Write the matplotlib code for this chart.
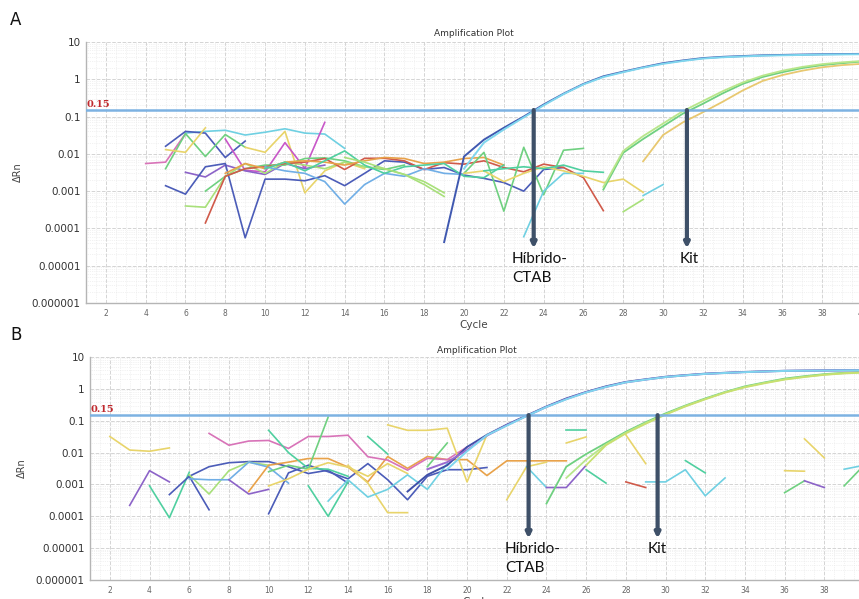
import matplotlib
matplotlib.use('Agg')
import matplotlib.pyplot as plt
from matplotlib.ticker import MultipleLocator, FixedLocator, LogLocator, NullFormatter
import numpy as np

# ---------------- DATA ----------------
Y_TICKS = [1e-6, 1e-5, 1e-4, 1e-3, 1e-2, 1e-1, 1, 10]
Y_TICK_LABELS = ['0.000001', '0.00001', '0.0001', '0.001', '0.01', '0.1', '1', '10']
X_TICKS = list(range(2, 41, 2))
THRESHOLD = 0.15

# Panel A amplification curves (start cycle, values per cycle)
A_HIB_STARTS = [19, 20]
A_HIB_VALUES = [
    [4.3e-5, 0.0085, 0.024, 0.05, 0.1, 0.21, 0.41, 0.75, 1.2, 1.6, 2.1, 2.7, 3.2, 3.7, 4.0, 4.2, 4.4, 4.5, 4.6, 4.7, 4.75, 4.8],
    [0.004, 0.02, 0.045, 0.095, 0.2, 0.4, 0.73, 1.15, 1.55, 2.05, 2.6, 3.1, 3.6, 3.9, 4.1, 4.3, 4.4, 4.5, 4.6, 4.65, 4.7],
]
A_KIT_STARTS = [27, 27, 29]
A_KIT_VALUES = [
    [0.0011, 0.0107, 0.025, 0.055, 0.12, 0.22, 0.42, 0.75, 1.15, 1.55, 2.0, 2.4, 2.7, 3.0],
    [0.0013, 0.012, 0.03, 0.065, 0.14, 0.26, 0.48, 0.82, 1.25, 1.7, 2.15, 2.55, 2.85, 3.1],
    [0.0063, 0.032, 0.07, 0.13, 0.25, 0.5, 0.9, 1.3, 1.7, 2.1, 2.4, 2.6],
]
A_CT_HIBRIDO = 23.5
A_CT_KIT = 31.2

# Panel A background (noise) traces
A_NOISE_STARTS = [4, 6, 5, 5, 5, 9, 8, 6, 5, 7, 6, 7, 8, 10, 10, 20, 23, 20, 28, 29, 14, 21]
A_NOISE_VALUES = [
    [0.0055, 0.006, 0.035],
    [0.036, 0.04, 0.043, 0.032, 0.038, 0.047, 0.036, 0.034, 0.014],
    [0.016, 0.04, 0.036, 0.008, 0.022],
    [0.004, 0.035, 0.0085, 0.033, 0.015],
    [0.013, 0.011, 0.05],
    [0.015, 0.011, 0.04, 0.0009, 0.0035, 0.006, 0.004],
    [0.025, 0.0036, 0.0033, 0.02, 0.0041, 0.07],
    [0.0032, 0.0024, 0.005, 0.0035, 0.0028, 0.0055, 0.004, 0.005],
    [0.0014, 0.00083, 0.0045, 0.0055, 5.6e-5, 0.0021, 0.0021, 0.0019, 0.0026, 0.0014, 0.003, 0.0065, 0.006, 0.0038, 0.0043, 0.0027, 0.0022, 0.0017, 0.001, 0.0038, 0.0043],
    [0.001, 0.0025, 0.004, 0.005, 0.005, 0.0075, 0.0078, 0.0065, 0.0045, 0.0038, 0.005],
    [0.0004, 0.00037, 0.0025, 0.0055, 0.003, 0.006, 0.005, 0.004, 0.006, 0.0045, 0.004, 0.0028, 0.0015, 0.00072],
    [0.00014, 0.0025, 0.004, 0.0045, 0.0055, 0.006, 0.0075, 0.0038, 0.0076, 0.0076, 0.0065, 0.0038, 0.0058, 0.0053, 0.0065, 0.0043, 0.0033, 0.0053, 0.0043, 0.0023, 0.0003],
    [0.003, 0.0055, 0.004, 0.006, 0.0065, 0.006, 0.005, 0.0065, 0.008, 0.0075, 0.0055, 0.006, 0.0075, 0.008, 0.005],
    [0.0045, 0.0035, 0.003, 0.0018, 0.00045, 0.0015, 0.003, 0.0025, 0.004, 0.003, 0.0028],
    [0.004, 0.006, 0.0035, 0.0065, 0.012, 0.005, 0.003, 0.0045, 0.005, 0.0055, 0.0025, 0.0023, 0.005],
    [0.003, 0.011, 0.00029, 0.015, 0.0008, 0.0125, 0.014],
    [6e-5, 0.001, 0.003, 0.003],
    [0.003, 0.0035, 0.0018, 0.003, 0.0045, 0.0035, 0.0025, 0.0017, 0.0021, 0.00093],
    [0.00028, 0.0006],
    [0.00076, 0.0015],
    [0.008, 0.006, 0.004, 0.0028, 0.0018, 0.0009],
    [0.0035, 0.004, 0.0045, 0.004, 0.005, 0.0035, 0.0032],
]

# Panel B amplification curves
B_HIB_STARTS = [17, 18, 19]
B_HIB_VALUES = [
    [0.0006, 0.002, 0.004, 0.015, 0.036, 0.075, 0.145, 0.28, 0.5, 0.8, 1.2, 1.65, 2.0, 2.4, 2.7, 3.0, 3.2, 3.4, 3.55, 3.7, 3.75, 3.8, 3.85, 3.9],
    [0.003, 0.005, 0.012, 0.034, 0.072, 0.14, 0.27, 0.48, 0.78, 1.15, 1.6, 1.95, 2.35, 2.65, 2.95, 3.15, 3.35, 3.5, 3.65, 3.7, 3.75, 3.8, 3.85],
    [0.003, 0.011, 0.035, 0.07, 0.14, 0.27, 0.47, 0.77, 1.15, 1.6, 1.95, 2.35, 2.65, 2.95, 3.15, 3.35, 3.5, 3.65, 3.7, 3.75, 3.8, 3.85],
]
B_KIT_STARTS = [24, 25, 26]
B_KIT_VALUES = [
    [0.00025, 0.0036, 0.009, 0.02, 0.045, 0.09, 0.17, 0.3, 0.5, 0.8, 1.2, 1.6, 2.1, 2.5, 2.9, 3.2, 3.4],
    [0.0016, 0.006, 0.018, 0.042, 0.085, 0.16, 0.29, 0.48, 0.78, 1.15, 1.55, 2.0, 2.4, 2.8, 3.1, 3.3],
    [0.004, 0.017, 0.04, 0.08, 0.155, 0.28, 0.47, 0.76, 1.12, 1.5, 1.95, 2.35, 2.75, 3.05, 3.25],
]
B_CT_HIBRIDO = 23.1
B_CT_KIT = 29.6

B_NOISE_STARTS = [2, 3, 4, 5, 6, 6, 6, 8, 10, 9, 7, 10, 10, 12, 10, 14, 16, 13, 15, 18, 22, 23, 24, 25, 25, 28, 26, 28, 29, 31, 36, 36, 37, 37, 39, 39]
B_NOISE_VALUES = [
    [0.032, 0.012, 0.011, 0.014],
    [0.00022, 0.0027, 0.0012],
    [0.0009, 9e-5, 0.0024],
    [0.00048, 0.0018, 0.0036, 0.0048, 0.0052, 0.0052, 0.0036, 0.0022, 0.0028, 0.0011],
    [0.0018, 0.00016],
    [0.002, 0.0005, 0.0027, 0.005, 0.004],
    [0.0015, 0.0014, 0.0014, 0.005, 0.0035, 0.0011],
    [0.0014, 0.0005, 0.0007],
    [0.00012, 0.0023, 0.004, 0.0025, 0.0015, 0.0045, 0.0014, 0.00033, 0.0018, 0.0029, 0.0029, 0.0034],
    [0.0006, 0.004, 0.005, 0.0065, 0.0065, 0.0035, 0.0012, 0.0075, 0.0032, 0.0075, 0.006, 0.006, 0.0019, 0.0055, 0.0055, 0.0055, 0.0055],
    [0.04, 0.017, 0.023, 0.024, 0.0135, 0.032, 0.032, 0.035, 0.0074, 0.0058, 0.0028, 0.0066, 0.006, 0.015],
    [0.05, 0.01, 0.0032, 0.003, 0.0018],
    [0.0025, 0.004, 0.003, 0.13],
    [0.0009, 0.0001, 0.0012],
    [0.0009, 0.0015, 0.003, 0.0048, 0.0035, 0.0018, 0.0045, 0.0022],
    [0.004, 0.0011, 0.00013, 0.00013],
    [0.074, 0.05, 0.05, 0.058, 0.0012, 0.036],
    [0.0003, 0.0014, 0.0004, 0.0007, 0.002, 0.0007, 0.0045],
    [0.032, 0.009],
    [0.0036, 0.02],
    [0.00033, 0.0036, 0.005],
    [0.0036, 0.0008],
    [0.0008, 0.0008, 0.004],
    [0.05, 0.05],
    [0.02, 0.031],
    [0.036, 0.0045],
    [0.0029, 0.0011],
    [0.0012, 0.0008],
    [0.0012, 0.0012, 0.0029, 0.00044, 0.0016],
    [0.0056, 0.0023],
    [0.0027, 0.0026],
    [0.00055, 0.0013],
    [0.0013, 0.0008],
    [0.027, 0.0068],
    [0.003, 0.004],
    [0.0009, 0.004],
]

# ---------------- STYLE ----------------
DB = '#4b5cb8'; CY = '#6fd0e2'; GR = '#6fd080'; TG = '#4fcf9f'; YE = '#e8d46a'
OR = '#e8a24a'; RD = '#d05a4a'; MG = '#c857c8'; PK = '#d873b8'; LG = '#a8e07a'
SB = '#70aee6'; PU = '#8c63c8'; YG = '#c8e070'

A_NOISE_COLORS = [PK, CY, DB, GR, YE, YE, MG, PU, DB, GR, LG, RD, OR, SB, TG, GR, CY, YE, LG, CY, LG, TG]
B_NOISE_COLORS = [YE, PU, TG, DB, DB, LG, SB, PU, DB, OR, PK, TG, GR, TG, YE, YE, YE, CY, TG, GR,
                  YE, CY, PU, TG, YE, YE, TG, RD, CY, TG, YE, GR, PU, YE, CY, GR]
A_HIB_COLORS = ['#3f58b0', '#7fd6ee']
A_KIT_COLORS = [GR, '#b8e68a', '#e8c870']
B_HIB_COLORS = ['#3f4fa8', '#9a6ad0', '#7fd6ee']
B_KIT_COLORS = [GR, '#b8e68a', YG]

ARROW_COLOR = '#3e5068'
TH_COLOR = '#7db2e2'

fig = plt.figure(figsize=(8.59, 5.99), dpi=100)
axA = fig.add_axes([86 / 859, 1 - 303 / 599, (862 - 86) / 859, (303 - 42) / 599])
axB = fig.add_axes([90 / 859, 1 - 580 / 599, (864 - 90) / 859, (580 - 357) / 599])


def draw_series(ax, starts, values, colors, lw):
    for s, v, c in zip(starts, values, colors):
        x = np.arange(s, s + len(v))
        ax.plot(x, v, color=c, lw=lw, solid_joinstyle='round')


def setup(ax, title_pad):
    ax.set_yscale('log')
    ax.set_ylim(1e-6, 10)
    ax.set_xlim(1, 40)
    ax.yaxis.set_major_locator(FixedLocator(Y_TICKS))
    ax.set_yticklabels(Y_TICK_LABELS)
    ax.yaxis.set_minor_locator(LogLocator(base=10, subs=np.arange(2, 10)))
    ax.yaxis.set_minor_formatter(NullFormatter())
    ax.xaxis.set_major_locator(FixedLocator(X_TICKS))
    ax.set_xticklabels([str(t) for t in X_TICKS])
    ax.xaxis.set_minor_locator(MultipleLocator(0.5))
    ax.grid(True, which='major', color='#d4d4d4', lw=0.7, ls='--')
    ax.grid(True, which='minor', color='#e6e6e6', lw=0.5, ls=':')
    ax.set_axisbelow(True)
    ax.tick_params(axis='both', which='both', length=0)
    ax.tick_params(axis='x', labelsize=5.5, labelcolor='#666666', pad=4)
    ax.tick_params(axis='y', labelsize=7.5, labelcolor='#333333', pad=4)
    for sp in ['top', 'right']:
        ax.spines[sp].set_visible(False)
    for sp in ['left', 'bottom']:
        ax.spines[sp].set_color('#b5b5b5')
        ax.spines[sp].set_linewidth(1.0)
    ax.set_title('Amplification Plot', fontsize=6.5, color='#333333', pad=title_pad)
    ax.set_xlabel('Cycle', fontsize=7.5, color='#444444', labelpad=2)
    ax.set_ylabel('ΔRn', fontsize=7, color='#444444', labelpad=6)
    ax.axhline(THRESHOLD, color=TH_COLOR, lw=1.8, zorder=3)
    ax.text(1.05, THRESHOLD * 1.05, '0.15', color='#c0282d', fontsize=7, fontweight='bold',
            family='DejaVu Serif', va='bottom', ha='left', zorder=5)


setup(axA, 4)
setup(axB, 3)

draw_series(axA, A_NOISE_STARTS, A_NOISE_VALUES, A_NOISE_COLORS, 1.2)
draw_series(axA, A_KIT_STARTS, A_KIT_VALUES, A_KIT_COLORS, 1.3)
draw_series(axA, A_HIB_STARTS, A_HIB_VALUES, A_HIB_COLORS, 1.4)

draw_series(axB, B_NOISE_STARTS, B_NOISE_VALUES, B_NOISE_COLORS, 1.2)
draw_series(axB, B_KIT_STARTS, B_KIT_VALUES, B_KIT_COLORS, 1.3)
draw_series(axB, B_HIB_STARTS, B_HIB_VALUES, B_HIB_COLORS, 1.4)


def arrow(ax, ct, ybot):
    ax.annotate('', xy=(ct, ybot), xytext=(ct, THRESHOLD),
                arrowprops=dict(arrowstyle='-|>', color=ARROW_COLOR, lw=3,
                                mutation_scale=7, shrinkA=0, shrinkB=0), zorder=6)


arrow(axA, A_CT_HIBRIDO, 2.9e-5)
arrow(axA, A_CT_KIT, 2.9e-5)
arrow(axB, B_CT_HIBRIDO, 2.0e-5)
arrow(axB, B_CT_KIT, 2.0e-5)

lab_kw = dict(fontsize=11, family=['Lato', 'DejaVu Sans'], color='#111111', linespacing=1.45,
              ha='left', va='top', zorder=7)
axA.text(22.4, 2.3e-5, 'Híbrido-\nCTAB', **lab_kw)
axA.text(30.85, 2.3e-5, 'Kit', **lab_kw)
axB.text(21.9, 1.6e-5, 'Híbrido-\nCTAB', **lab_kw)
axB.text(29.1, 1.6e-5, 'Kit', **lab_kw)

fig.text(10 / 859, 1 - 20 / 599, 'A', fontsize=12, va='center', ha='left', color='#111111')
fig.text(10 / 859, 1 - 335 / 599, 'B', fontsize=12, va='center', ha='left', color='#111111')

fig.savefig('out.png', dpi=100)
